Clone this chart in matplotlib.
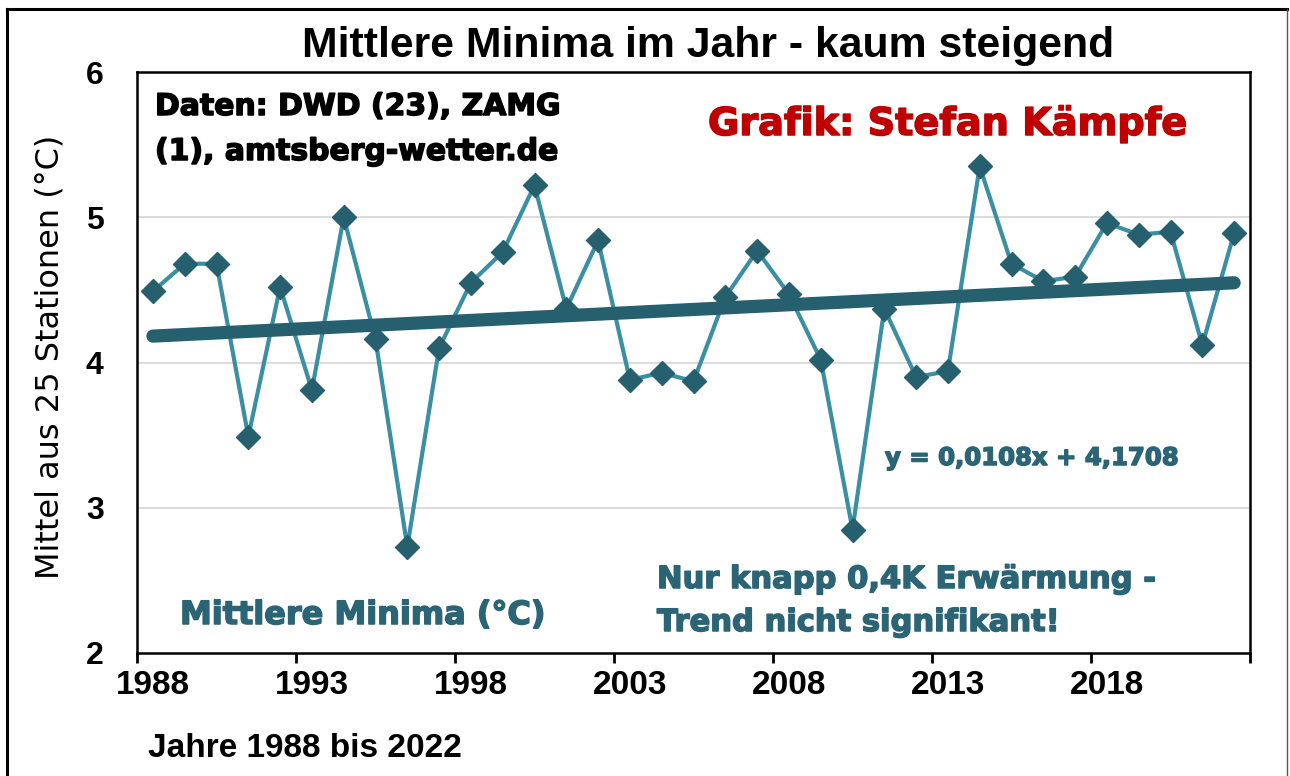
import matplotlib.pyplot as plt
import matplotlib.patheffects as pe
from matplotlib.lines import Line2D
import numpy as np

# data
years = list(range(1988, 2023))
minima = [4.49, 4.68, 4.68, 3.49, 4.52, 3.81, 5.00, 4.16, 2.73, 4.10,
          4.55, 4.76, 5.22, 4.37, 4.84, 3.88, 3.93, 3.87, 4.45, 4.77,
          4.47, 4.02, 2.85, 4.37, 3.90, 3.94, 5.35, 4.68, 4.56, 4.59,
          4.96, 4.88, 4.90, 4.12, 4.89]
label_years = [1988, 1993, 1998, 2003, 2008, 2013, 2018]
y_ticks = [2, 3, 4, 5, 6]
grid_values = [3, 4, 5]

# linear trend as printed on the chart (x = 1 .. 35)
trend_slope = 0.0108
trend_intercept = 4.1708

line_color = '#3a8fa3'
dark_teal = '#265f6e'
text_teal = '#2a6475'
red = '#c00000'

W, H = 1290, 776


def fx(x):
    return x / W


def fy(y):
    return 1 - y / H


fig = plt.figure(figsize=(W / 100, H / 100), dpi=100)
ax = fig.add_axes([fx(137), fy(653), (1250 - 137) / W, (653 - 72) / H])

# grid lines
for g in grid_values:
    ax.axhline(g, color='#d9d9d9', lw=1.3, zorder=1)

# data series
ax.plot(years, minima, color=line_color, lw=3, marker='D', ms=12.5,
        mfc=dark_teal, mec=dark_teal, mew=1, zorder=3)

# trend line
trend_x = np.arange(1, len(years) + 1)
trend_y = trend_slope * trend_x + trend_intercept
ax.plot(years, trend_y, color=dark_teal, lw=9.5, solid_capstyle='round', zorder=4)

ax.set_xlim(years[0] - 0.5, years[-1] + 0.5)
ax.set_ylim(2, 6)

# tick marks between categories, labels on the categories
ax.set_xticks(np.arange(years[0] - 0.5, years[-1] + 1, 5))
ax.set_xticklabels([])
ax.set_xticks(label_years, minor=True)
ax.set_xticklabels([str(y) for y in label_years], minor=True,
                   fontfamily='Liberation Sans', fontweight='bold', fontsize=24)
ax.tick_params(axis='x', which='major', direction='out', length=7, width=2, color='black')
ax.tick_params(axis='x', which='minor', length=0, pad=12)

ax.set_yticks(y_ticks)
ax.set_yticklabels([str(v) for v in y_ticks], fontfamily='Liberation Sans',
                   fontweight='bold', fontsize=23)
ax.tick_params(axis='y', length=0, pad=24)

for side in ['left', 'right', 'top', 'bottom']:
    ax.spines[side].set_color('black')
    ax.spines[side].set_linewidth(1.8)

# axis titles
fig.text(fx(50), fy(357), 'Mittel aus 25 Stationen (°C)', rotation=90,
         ha='center', va='center', fontfamily='DejaVu Sans', fontsize=23)
fig.text(fx(148), fy(757), 'Jahre 1988 bis 2022', ha='left', va='baseline',
         fontfamily='Liberation Sans', fontweight='bold', fontsize=24)

# title
fig.text(fx(708), fy(57), 'Mittlere Minima im Jahr - kaum steigend', ha='center',
         va='baseline', fontfamily='Liberation Sans', fontweight='bold', fontsize=30.8)


# heavy text boxes inside the chart (a thin stroke makes the bold look heavier)
def heavy_text(x, y, s, color, size):
    fig.text(fx(x), fy(y), s, color=color, fontsize=size, fontfamily='DejaVu Sans',
             fontweight='bold', ha='left', va='baseline',
             path_effects=[pe.withStroke(linewidth=1.1, foreground=color)])


heavy_text(155, 115, 'Daten: DWD (23), ZAMG', 'black', 21.5)
heavy_text(155, 160, '(1), amtsberg-wetter.de', 'black', 21.5)
heavy_text(708, 135, 'Grafik: Stefan Kämpfe', red, 27.5)
heavy_text(885, 465, 'y = 0,0108x + 4,1708', text_teal, 17.5)
heavy_text(657, 588, 'Nur knapp 0,4K Erwärmung -', text_teal, 22)
heavy_text(657, 631, 'Trend nicht signifikant!', text_teal, 22)
heavy_text(180, 624, 'Mittlere Minima (°C)', text_teal, 23)

# outer chart frame (bottom edge is cut off in the original)
fig.add_artist(Line2D([fx(7), fx(7)], [0, fy(9)], color='black', lw=2.2))
fig.add_artist(Line2D([fx(7), fx(1287)], [fy(9), fy(9)], color='black', lw=2.2))
fig.add_artist(Line2D([fx(1287), fx(1287)], [0, fy(9)], color='#555555', lw=1))

fig.savefig('out.png', dpi=100)
